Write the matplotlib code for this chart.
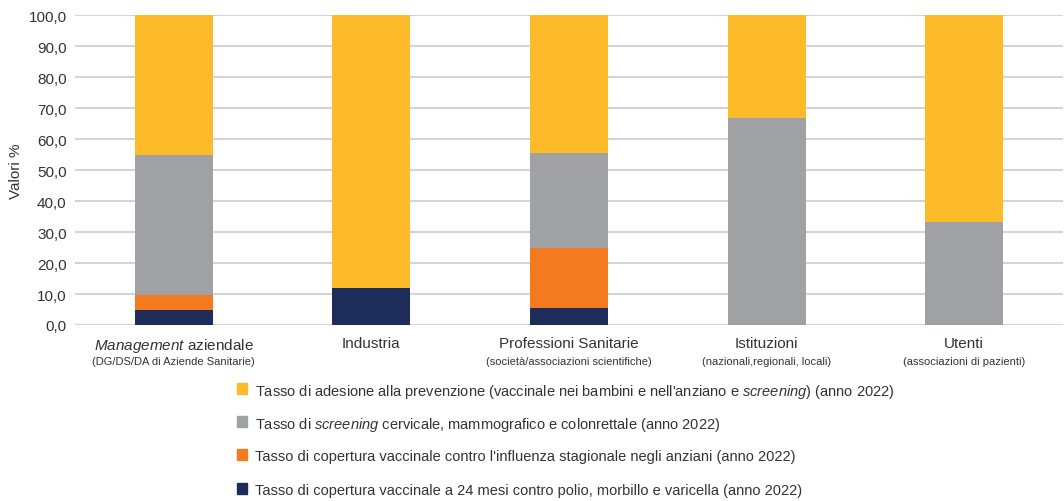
import matplotlib
matplotlib.use("Agg")
import matplotlib.pyplot as plt
from matplotlib import font_manager
from matplotlib.patches import Rectangle
import numpy as np

# data
categories = ["$\\mathit{Management}$ aziendale", "Industria", "Professioni Sanitarie",
              "Istituzioni", "Utenti"]
subtitles = ["(DG/DS/DA di Aziende Sanitarie)", "", "(società/associazioni scientifiche)",
             "(nazionali,regionali, locali)", "(associazioni di pazienti)"]
vacc_24m = [4.8, 11.8, 5.6, 0.0, 0.0]
influenza = [4.8, 0.0, 19.4, 0.0, 0.0]
screening = [45.2, 0.0, 30.6, 66.7, 33.3]
adesione = [45.2, 88.2, 44.4, 33.3, 66.7]
series_labels = [
    "Tasso di adesione alla prevenzione (vaccinale nei bambini e nell'anziano e $\\mathit{screening}$) (anno 2022)",
    "Tasso di $\\mathit{screening}$ cervicale, mammografico e colonrettale (anno 2022)",
    "Tasso di copertura vaccinale contro l'influenza stagionale negli anziani (anno 2022)",
    "Tasso di copertura vaccinale a 24 mesi contro polio, morbillo e varicella (anno 2022)",
]
yticks = np.arange(0, 101, 10)

colors = {"adesione": "#FDBB2A", "screening": "#A0A1A5",
          "influenza": "#F47A20", "vacc": "#1E2C5A"}

names = {f.name for f in font_manager.fontManager.ttflist}
fam = "Liberation Sans Narrow" if "Liberation Sans Narrow" in names else "Liberation Sans"
plt.rcParams["font.family"] = [fam, "DejaVu Sans"]
plt.rcParams["mathtext.fontset"] = "custom"
plt.rcParams["mathtext.rm"] = fam
plt.rcParams["mathtext.it"] = fam + ":italic"
txt = "#333333"

W, H = 1064, 502
fig = plt.figure(figsize=(W / 100, H / 100), dpi=100)
ax = fig.add_axes([0.0705, 0.3506, 0.9286, 0.6175])

x = np.arange(len(categories))
w = 0.395
b = np.zeros(len(categories))
ax.bar(x, vacc_24m, w, bottom=b, color=colors["vacc"], zorder=3)
b += vacc_24m
ax.bar(x, influenza, w, bottom=b, color=colors["influenza"], zorder=3)
b += influenza
ax.bar(x, screening, w, bottom=b, color=colors["screening"], zorder=3)
b += screening
ax.bar(x, adesione, w, bottom=b, color=colors["adesione"], zorder=3)

ax.set_xlim(-0.5, len(categories) - 0.5)
ax.set_ylim(0, 100)
ax.set_yticks(yticks)
ax.set_yticklabels([f"{v:.1f}".replace(".", ",") for v in yticks], fontsize=11, color=txt)
ax.yaxis.grid(True, color="#d4d4d4", linewidth=1.5, zorder=0)
ax.tick_params(axis="y", length=0, pad=6)
ax.tick_params(axis="x", length=0, pad=8)
for s in ax.spines.values():
    s.set_visible(False)
ax.set_ylabel("Valori %", fontsize=11, color=txt, labelpad=4)

ax.set_xticks(x)
ax.set_xticklabels(categories, fontsize=11, color=txt)
for xi, sub in zip(x, subtitles):
    if sub:
        ax.annotate(sub, xy=(xi, 0), xycoords=("data", "axes fraction"),
                    xytext=(0, -22.5), textcoords="offset points",
                    ha="center", va="top", fontsize=8, color=txt)

# legend drawn by hand so rows are evenly spaced
keys = ["adesione", "screening", "influenza", "vacc"]
row_y = [390, 423, 456, 490]
for k, lab, py in zip(keys, series_labels, row_y):
    fig.patches.append(Rectangle((237 / W, 1 - (py + 5) / H), 10 / W, 11 / H,
                                 transform=fig.transFigure, color=colors[k]))
    fig.text(255 / W, 1 - py / H, lab, fontsize=10.5, color=txt,
             ha="left", va="center_baseline")

fig.savefig("out.png", dpi=100)
